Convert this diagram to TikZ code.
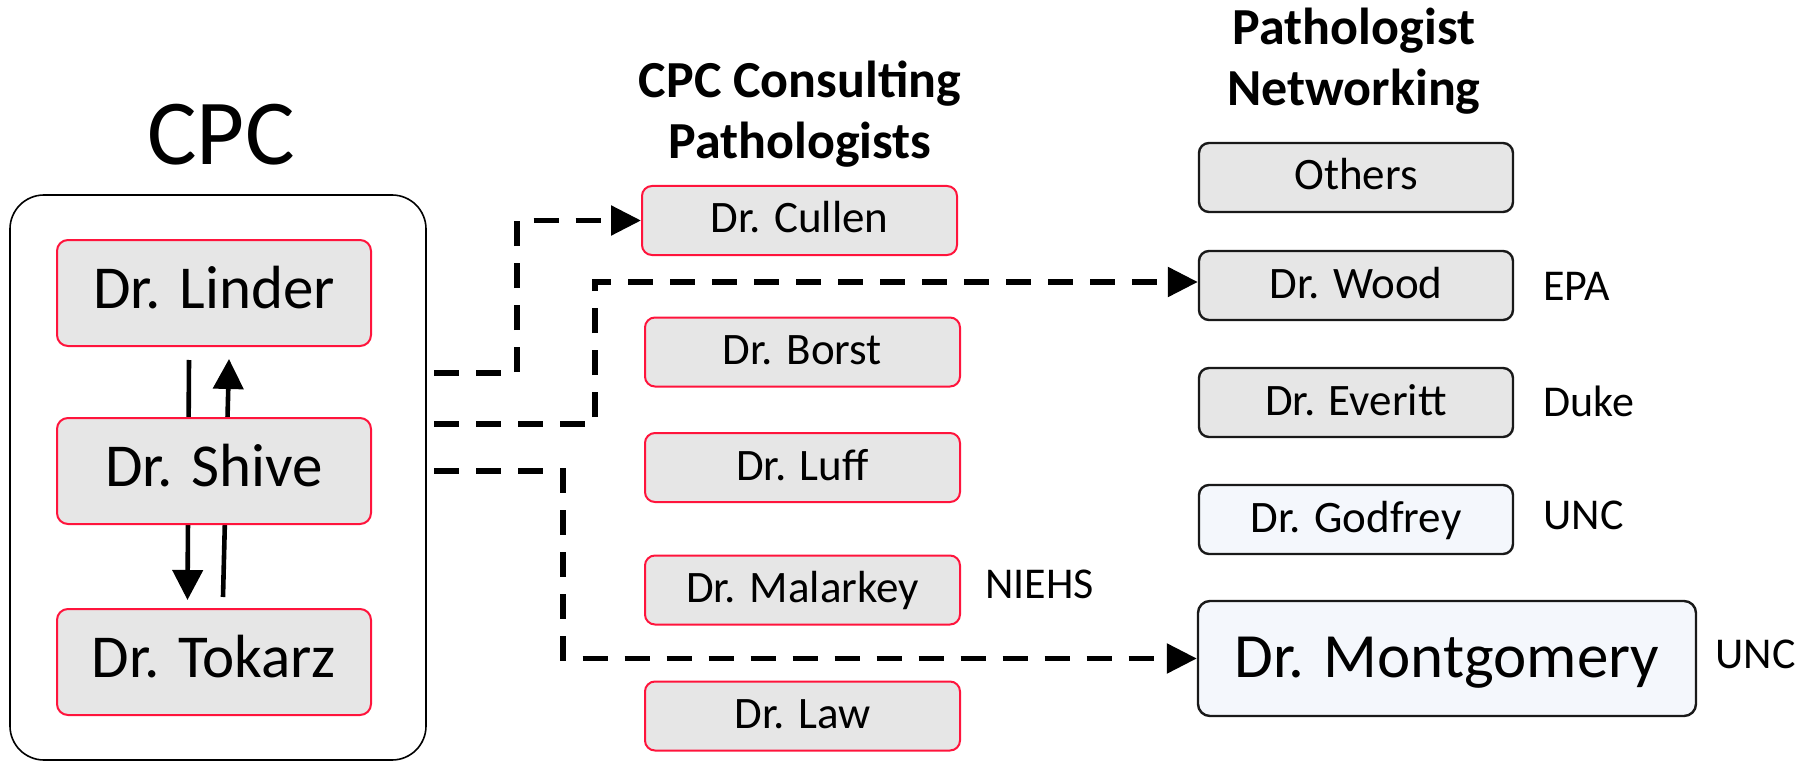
\documentclass[tikz,border=0pt]{standalone}
\usepackage{fontspec}
\setmainfont{Carlito}
\usetikzlibrary{arrows.meta,calc,backgrounds}
\definecolor{boxred}{RGB}{255,20,60}
\definecolor{boxgray}{RGB}{230,230,230}
\definecolor{boxlight}{RGB}{244,247,252}
\definecolor{boxline}{RGB}{25,25,25}
\begin{document}
\begin{tikzpicture}[x=0.5pt,y=-0.5pt,
  cpcbox/.style={inner sep=0pt, text height=15pt, text depth=0pt, draw=boxred, fill=boxgray, line width=1pt, rounded corners=5.5pt,
    minimum width=157pt, minimum height=53pt, font=\fontsize{30.5pt}{36pt}\selectfont},
  consbox/.style={inner sep=0pt, text height=12.5pt, text depth=0pt, draw=boxred, fill=boxgray, line width=1pt, rounded corners=5pt,
    minimum width=157.5pt, minimum height=34.5pt, font=\fontsize{22.5pt}{27pt}\selectfont},
  netbox/.style={inner sep=0pt, text height=12.5pt, text depth=0pt, draw=boxline, fill=boxgray, line width=1.2pt, rounded corners=5pt,
    minimum width=157pt, minimum height=34.5pt, font=\fontsize{22.5pt}{27pt}\selectfont},
  montbox/.style={inner sep=0pt, text height=18.5pt, text depth=0pt, draw=boxline, fill=boxlight, line width=1.2pt, rounded corners=6pt,
    minimum width=249pt, minimum height=57.5pt, font=\fontsize{31.5pt}{38pt}\selectfont},
  affil/.style={anchor=base west, inner sep=0pt, font=\fontsize{22pt}{26pt}\selectfont},
  heading/.style={align=center, inner sep=0pt, font=\bfseries\fontsize{26pt}{30.5pt}\selectfont},
  solidarrow/.style={line width=2.3pt, -{Triangle[length=15pt,width=15pt]}},
  dasharrow/.style={line width=2.75pt, dash pattern=on 12.5pt off 8.5pt, -{Triangle[length=15pt,width=14.5pt]}}
]
\useasboundingbox (0,0) rectangle (1806,765);

% headings
\node[anchor=base, inner sep=0pt, font=\fontsize{46.5pt}{56pt}\selectfont] (cpctitle) at (221,164) {CPC};
\node[heading, anchor=base] (conshead) at (800,159) {CPC Consulting\\Pathologists};
\node[heading, anchor=base] (nethead) at (1354,106) {Pathologist\\Networking};

% CPC frame
\node[draw=black, line width=0.8pt, rounded corners=17pt, minimum width=208pt, minimum height=282.5pt, inner sep=0pt] (cpcframe) at (218,477.5) {};

% CPC members
\node[cpcbox] (linder) at (214,293) {Dr. Linder};
\node[cpcbox] (shive) at (214,471) {Dr. Shive};
\node[cpcbox] (tokarz) at (214,662) {Dr. Tokarz};

% consulting pathologists
\node[consbox] (cullen) at (799.5,220.5) {Dr. Cullen};
\node[consbox] (borst) at (802.5,352) {Dr. Borst};
\node[consbox] (luff) at (802.5,467.5) {Dr. Luff};
\node[consbox] (malarkey) at (802.5,590) {Dr. Malarkey};
\node[consbox] (law) at (802.5,716) {Dr. Law};
\node[affil] (niehs) at (985,598) {NIEHS};

% networking
\node[netbox] (others) at (1356,177.5) {Others};
\node[netbox] (wood) at (1356,285.5) {Dr. Wood};
\node[netbox] (everitt) at (1356,402.5) {Dr. Everitt};
\node[netbox, fill=boxlight] (godfrey) at (1356,519.5) {Dr. Godfrey};
\node[montbox] (mont) at (1447,658.5) {Dr. Montgomery};
\node[affil] (epa) at (1543,300) {EPA};
\node[affil] (duke) at (1543,416) {Duke};
\node[affil] (unc1) at (1543,529) {UNC};
\node[affil] (unc2) at (1715,668) {UNC};

% arrows inside CPC
\begin{pgfonlayer}{background}
\draw[solidarrow] ($(linder.south)+(-25,13)$) -- ($(tokarz.north)+(-26.5,-8)$);
\draw[solidarrow] ($(tokarz.north)+(9,-11)$) -- ($(linder.south)+(15,12)$);
\end{pgfonlayer}

% dashed connectors
\coordinate (s1) at (434,373);
\coordinate (s2) at (434,424);
\coordinate (s3) at (434,471);
\draw[dasharrow] (s1) -- ++(83,0) |- (cullen.west);
\draw[dasharrow] (s2) -- ++(161,0) |- ($(wood.west)+(0,-3.5)$);
\draw[dasharrow] (s3) -- ++(129,0) |- (mont.west);
\end{tikzpicture}
\end{document}
